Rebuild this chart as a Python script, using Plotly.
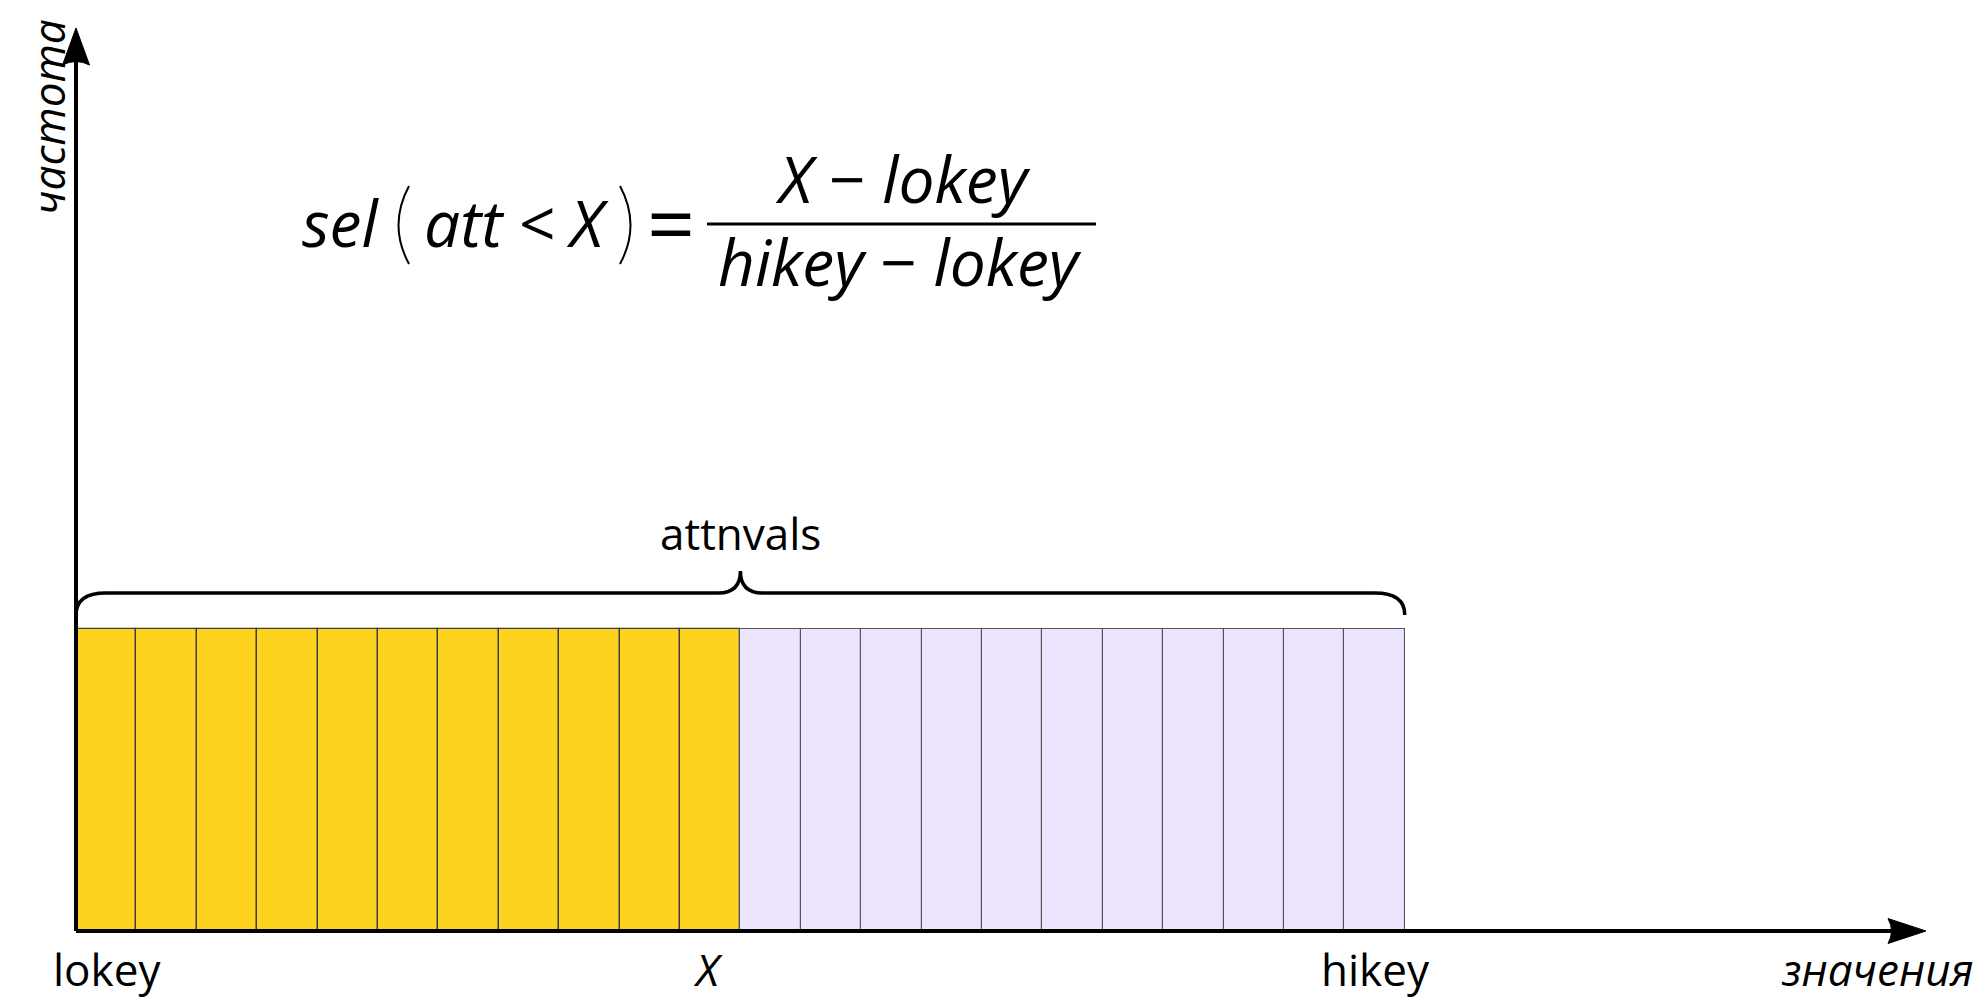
import plotly.graph_objects as go

# ---------------- data ----------------
bin_freq = [1, 1, 1, 1, 1, 1, 1, 1, 1, 1, 1,
            1, 1, 1, 1, 1, 1, 1, 1, 1, 1, 1]          # equal-height histogram
x_bin = 11                                             # bins left of X (yellow)
key_labels = ["lokey", "<i>X</i>", "hikey"]
key_positions = [0, x_bin, len(bin_freq)]
key_shifts = [31, -32, -29]
axis_x_title = "значения"
axis_y_title = "частота"
brace_label = "attnvals"

# ---------------- geometry ----------------
W, H = 1980, 998
ORIGIN_X_PX, ORIGIN_Y_PX = 76, 931
PX_PER_BIN = 60.4
PX_PER_UNIT = 302
X_TIP = (1926 - ORIGIN_X_PX) / PX_PER_BIN
Y_TIP = (ORIGIN_Y_PX - 28) / PX_PER_UNIT

YELLOW = "#FDD320"
LILAC = "#EDE5FD"
EDGE = "#3f3f3f"
FONT = "Open Sans"


def px(x):
    return x / W


def py(y):
    return 1 - y / H


n = len(bin_freq)
centers = [i + 0.5 for i in range(n)]

fig = go.Figure()
fig.add_trace(go.Bar(
    x=centers[:x_bin], y=bin_freq[:x_bin], width=1,
    marker=dict(color=YELLOW, line=dict(color=EDGE, width=1.3)),
    hoverinfo="skip", showlegend=False))
fig.add_trace(go.Bar(
    x=centers[x_bin:], y=bin_freq[x_bin:], width=1,
    marker=dict(color=LILAC, line=dict(color="#555555", width=1.1)),
    hoverinfo="skip", showlegend=False))

shapes = []
# axes lines
shapes.append(dict(type="line", xref="x", yref="y", x0=0, y0=0, x1=X_TIP - 0.5, y1=0,
                   line=dict(color="black", width=4)))
shapes.append(dict(type="line", xref="x", yref="y", x0=0, y0=0, x1=0, y1=Y_TIP - 0.1,
                   line=dict(color="black", width=4)))
# arrowheads
lx, hx, cx = 38 / PX_PER_BIN, 12.5 / PX_PER_UNIT, 7 / PX_PER_BIN
shapes.append(dict(type="path", xref="x", yref="y",
                   path=f"M {X_TIP},0 L {X_TIP - lx},{hx} Q {X_TIP - lx + cx},0 {X_TIP - lx},{-hx} Z",
                   fillcolor="black", line=dict(color="black", width=1)))
ly, hy, cy = 37 / PX_PER_UNIT, 13.5 / PX_PER_BIN, 7 / PX_PER_UNIT
shapes.append(dict(type="path", xref="x", yref="y",
                   path=f"M 0,{Y_TIP} L {hy},{Y_TIP - ly} Q 0,{Y_TIP - ly + cy} {-hy},{Y_TIP - ly} Z",
                   fillcolor="black", line=dict(color="black", width=1)))

# brace over all bins
y_flat = (ORIGIN_Y_PX - 593) / PX_PER_UNIT
y_end = (ORIGIN_Y_PX - 615) / PX_PER_UNIT
y_tip = (ORIGIN_Y_PX - 571) / PX_PER_UNIT
ex = 30 / PX_PER_BIN
mx = 22 / PX_PER_BIN
b0, b1, bm = 0, n, x_bin
brace = (f"M {b0},{y_end} Q {b0},{y_flat} {b0 + ex},{y_flat} "
         f"L {bm - mx},{y_flat} Q {bm},{y_flat} {bm},{y_tip} "
         f"Q {bm},{y_flat} {bm + mx},{y_flat} "
         f"L {b1 - ex},{y_flat} Q {b1},{y_flat} {b1},{y_end}")
shapes.append(dict(type="path", xref="x", yref="y", path=brace,
                   line=dict(color="black", width=3.5)))

# formula fraction bar
shapes.append(dict(type="line", xref="paper", yref="paper",
                   x0=px(707), x1=px(1096), y0=py(224), y1=py(224),
                   line=dict(color="black", width=3)))
# tall thin parentheses
shapes.append(dict(type="path", xref="paper", yref="paper",
                   path=f"M {px(409)},{py(186)} Q {px(388)},{py(225)} {px(409)},{py(264)}",
                   line=dict(color="black", width=2)))
shapes.append(dict(type="path", xref="paper", yref="paper",
                   path=f"M {px(620)},{py(186)} Q {px(641)},{py(225)} {px(620)},{py(264)}",
                   line=dict(color="black", width=2)))

ann = []
for lab, pos, sh in zip(key_labels, key_positions, key_shifts):
    ann.append(dict(text=lab, x=pos, y=0, xref="x", yref="y", xshift=sh, yshift=-38,
                    showarrow=False, xanchor="center", yanchor="middle",
                    font=dict(family=FONT, size=44, color="black")))
ann.append(dict(text=f"<i>{axis_x_title}</i>", x=1, y=0, xref="paper", yref="y",
                xshift=-4, yshift=-38, showarrow=False, xanchor="right", yanchor="middle",
                font=dict(family=FONT, size=44, color="black")))
ann.append(dict(text=f"<i>{axis_y_title}</i>", x=px(48), y=py(117), xref="paper", yref="paper",
                textangle=-90, showarrow=False, xanchor="center", yanchor="middle",
                font=dict(family=FONT, size=44, color="black")))
ann.append(dict(text=brace_label, x=bm, y=y_tip, xref="x", yref="y", yshift=38,
                xanchor="center", yanchor="middle", showarrow=False,
                font=dict(family=FONT, size=44, color="black")))

# formula pieces
FS = 64
pieces = [("<i>sel</i>", 340, FS), ("<i>att</i>", 464, FS), ("<", 537, FS),
          ("<i>X</i>", 587, FS), ("=", 671, 84)]
for t, xc, fs in pieces:
    ann.append(dict(text=t, x=px(xc), y=py(222), xref="paper", yref="paper",
                    showarrow=False, xanchor="center", yanchor="middle",
                    font=dict(family=FONT, size=fs, color="black")))
ann.append(dict(text="<i>X</i> − <i>lokey</i>", x=px(903), y=py(178), xref="paper", yref="paper",
                showarrow=False, xanchor="center", yanchor="middle",
                font=dict(family=FONT, size=FS, color="black")))
ann.append(dict(text="<i>hikey</i> − <i>lokey</i>", x=px(900), y=py(262), xref="paper", yref="paper",
                showarrow=False, xanchor="center", yanchor="middle",
                font=dict(family=FONT, size=FS, color="black")))

fig.update_layout(
    width=W, height=H,
    margin=dict(l=0, r=0, t=0, b=0),
    paper_bgcolor="white", plot_bgcolor="white",
    xaxis=dict(range=[-ORIGIN_X_PX / PX_PER_BIN, (W - ORIGIN_X_PX) / PX_PER_BIN],
               visible=False, fixedrange=True),
    yaxis=dict(range=[-(H - ORIGIN_Y_PX) / PX_PER_UNIT, ORIGIN_Y_PX / PX_PER_UNIT],
               visible=False, fixedrange=True),
    bargap=0, shapes=shapes, annotations=ann,
)

fig.write_html("out.html", config={"displayModeBar": False},
               post_script="document.body.style.margin='0';document.body.style.overflow='hidden';")
